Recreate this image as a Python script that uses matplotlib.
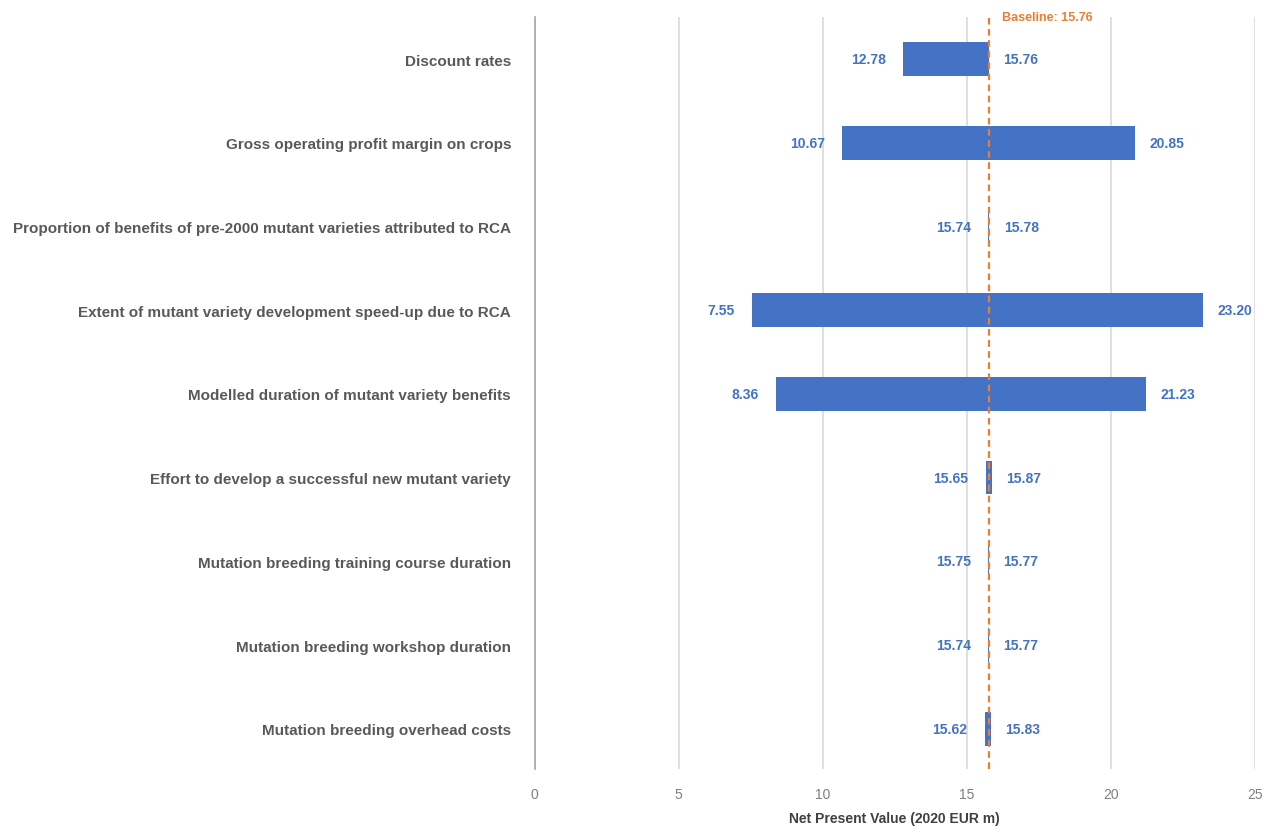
import numpy as np
import matplotlib.pyplot as plt

plt.rcParams['font.family'] = ['Liberation Sans', 'DejaVu Sans']

factors = [
    "Discount rates",
    "Gross operating profit margin on crops",
    "Proportion of benefits of pre-2000 mutant varieties attributed to RCA",
    "Extent of mutant variety development speed-up due to RCA",
    "Modelled duration of mutant variety benefits",
    "Effort to develop a successful new mutant variety",
    "Mutation breeding training course duration",
    "Mutation breeding workshop duration",
    "Mutation breeding overhead costs",
]
low = [12.78, 10.67, 15.74, 7.55, 8.36, 15.65, 15.75, 15.74, 15.62]
high = [15.76, 20.85, 15.78, 23.20, 21.23, 15.87, 15.77, 15.77, 15.83]
baseline = 15.76

blue = '#4472C4'
orange = '#ED7D31'

fig = plt.figure(figsize=(12.67, 8.28), dpi=100)
ax = fig.add_axes([0.422, 0.07, 0.5685, 0.908])

y = np.arange(len(factors))
ax.barh(y, np.array(high) - np.array(low), left=low, height=0.4, color=blue, zorder=3)

for i in range(len(factors)):
    ax.text(low[i] - 0.6, y[i], f"{low[i]:.2f}", ha='right', va='center',
            color=blue, fontsize=10, fontweight='bold', zorder=4)
    ax.text(high[i] + 0.5, y[i], f"{high[i]:.2f}", ha='left', va='center',
            color=blue, fontsize=10, fontweight='bold', zorder=4)

ax.axvline(baseline, color=orange, ls=(0, (3, 2)), lw=1.6, zorder=5)
ax.text(baseline + 0.45, -0.5, f"Baseline: {baseline:.2f}", ha='left', va='center',
        color=orange, fontsize=9, fontweight='bold')

ax.set_xlim(0, 25)
ax.set_ylim(len(factors) - 0.52, -0.5)
ax.set_xticks(np.arange(0, 26, 5))
ax.set_yticks(y)
ax.set_yticklabels(factors, fontsize=11, fontweight='bold', color='#595959')
ax.tick_params(axis='y', length=0, pad=17)
ax.tick_params(axis='x', length=0, pad=13, labelsize=10, labelcolor='#7F7F7F')
ax.grid(axis='x', color='#D9D9D9', lw=1.2, zorder=0)
for s in ['top', 'right', 'bottom']:
    ax.spines[s].set_visible(False)
ax.spines['left'].set_color('#A6A6A6')
ax.spines['left'].set_linewidth(1.2)
ax.set_xlabel("Net Present Value (2020 EUR m)", fontsize=10, fontweight='bold',
              color='#404040', labelpad=7)

fig.savefig('out.png', dpi=100)
